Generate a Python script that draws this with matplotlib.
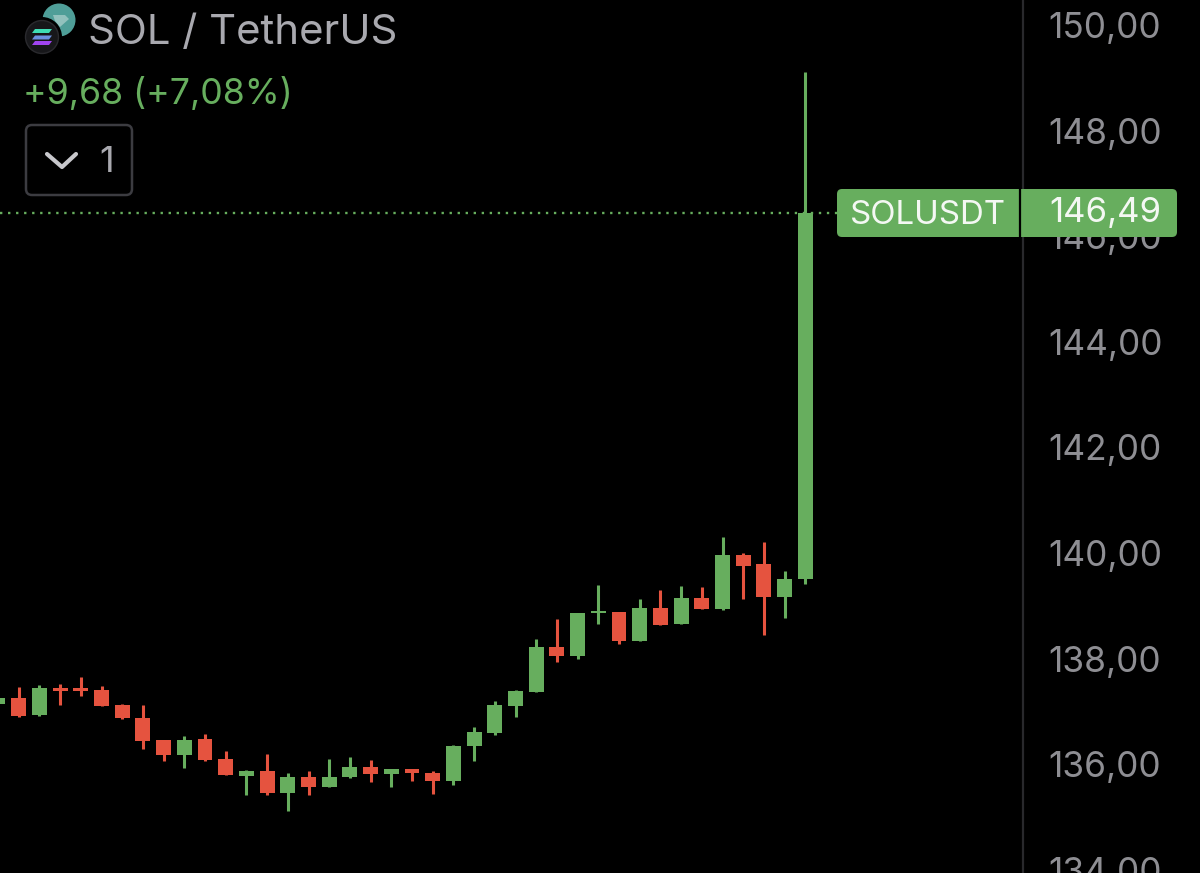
import matplotlib
matplotlib.use("Agg")
import matplotlib.pyplot as plt
import matplotlib.transforms as mtrans
from matplotlib.patches import FancyBboxPatch, Circle, Polygon

plt.rcParams['font.family'] = ['Inter', 'DejaVu Sans']

opens  = [137.20, 137.31, 136.99, 137.50, 137.50, 137.46, 137.18, 136.93, 136.52, 136.23,
          136.53, 136.16, 135.83, 135.93, 135.51, 135.81, 135.62, 135.81, 136.00, 135.87,
          135.97, 135.89, 135.74, 136.40, 136.65, 137.16, 137.42, 138.28, 138.11, 138.92,
          138.94, 138.39, 139.02, 138.71, 139.20, 139.00, 140.02, 139.85, 139.22, 139.56]
highs  = [137.31, 137.52, 137.56, 137.58, 137.71, 137.54, 137.20, 137.18, 136.52, 136.59,
          136.63, 136.31, 135.95, 136.25, 135.89, 135.93, 136.16, 136.19, 136.14, 135.97,
          135.97, 135.93, 136.42, 136.76, 137.25, 137.46, 138.43, 138.81, 138.92, 139.45,
          138.94, 139.19, 139.36, 139.43, 139.41, 140.36, 140.06, 140.27, 139.72, 149.17]
lows   = [137.18, 136.95, 136.97, 137.18, 137.35, 137.16, 136.91, 136.34, 136.12, 135.98,
          136.12, 135.85, 135.47, 135.47, 135.17, 135.47, 135.62, 135.80, 135.72, 135.62,
          135.74, 135.49, 135.66, 136.12, 136.61, 136.95, 137.42, 137.99, 138.05, 138.71,
          138.33, 138.39, 138.69, 138.71, 139.00, 138.98, 139.19, 138.50, 138.83, 139.47]
closes = [137.31, 136.97, 137.50, 137.44, 137.44, 137.16, 136.93, 136.50, 136.23, 136.52,
          136.14, 135.85, 135.93, 135.51, 135.81, 135.62, 135.81, 136.00, 135.87, 135.97,
          135.89, 135.74, 136.40, 136.67, 137.18, 137.44, 138.28, 138.11, 138.92, 138.96,
          138.39, 139.02, 138.69, 139.20, 139.00, 140.02, 139.81, 139.22, 139.56, 146.49]
up_flags = [1, 0, 1, 0, 0, 0, 0, 0, 0, 1, 0, 0, 1, 0, 1, 0, 1, 1, 0, 1,
            0, 0, 1, 1, 1, 1, 1, 0, 1, 1, 0, 1, 0, 1, 0, 1, 0, 0, 1, 1]
price_ticks = [134, 136, 138, 140, 142, 144, 146, 148, 150]

GREEN = '#67AE5E'
RED = '#E5533F'
GRAY = '#8E8E93'
W, H = 1200, 873
fmt = lambda v: f"{v:.2f}".replace('.', ',')

fig = plt.figure(figsize=(W / 100, H / 100), dpi=100, facecolor='black')
ax = fig.add_axes([0, 0, 1023 / W, 1], facecolor='black')
idx = list(range(len(opens)))
px_per_bar, px_per_unit = 20.7, 52.8
ax.set_xlim(2 / px_per_bar, (1023 + 2) / px_per_bar)
ax.set_ylim(140 + (556 - H) / px_per_unit, 140 + 556 / px_per_unit)

colors = [GREEN if u else RED for u in up_flags]
ax.vlines(idx, lows, highs, colors=colors, linewidth=2.2, zorder=2)
ax.bar(idx, [abs(c - o) for o, c in zip(opens, closes)],
       bottom=[min(o, c) for o, c in zip(opens, closes)],
       width=0.72, color=colors, linewidth=0, zorder=3)
ax.axhline(closes[-1], color=GREEN, linewidth=1.7, dashes=(1.0, 2.4), zorder=1)

for s in ('top', 'left', 'bottom'):
    ax.spines[s].set_visible(False)
ax.spines['right'].set_color('#29292C')
ax.spines['right'].set_linewidth(1.6)
ax.set_xticks([])
ax.yaxis.tick_right()
ax.set_yticks(price_ticks)
ax.set_yticklabels([fmt(v) for v in price_ticks], fontsize=25.4, color=GRAY)
ax.tick_params(axis='y', length=0, pad=18.5)
shift = mtrans.ScaledTranslation(0, 3 / 100, fig.dpi_scale_trans)
for lab in ax.get_yticklabels():
    lab.set_transform(lab.get_transform() + shift)

# overlay in pixel coordinates for header and badge
ov = fig.add_axes([0, 0, 1, 1], facecolor='none', zorder=5)
ov.set_xlim(0, W)
ov.set_ylim(H, 0)
ov.axis('off')

# logos
ov.add_patch(Circle((59, 20), 16.5, color='#4F9E98', lw=0))
ov.add_patch(Polygon([(53, 15), (65, 15), (69, 19), (60, 27), (55, 21)], closed=True, color='#BFD9D6', lw=0, alpha=.6))
ov.add_patch(Circle((42, 37), 20, color='black', lw=0))
ov.add_patch(Circle((42, 37), 16.5, facecolor='#17171A', edgecolor='#2A2A2E', lw=1))
for y, c in zip((29, 35.5, 41), ('#3FDDB5', '#6C8FE0', '#A044F0')):
    ov.add_patch(Polygon([(35, y), (52, y), (49, y + 4), (32, y + 4)], closed=True, color=c, lw=0))

ov.text(88, 33, 'SOL / TetherUS', color='#A9A9AF', fontsize=30.2, va='center', ha='left')
ov.text(23, 94.5, '+9,68 (+7,08%)', color=GREEN, fontsize=25.7, va='center', ha='left')

# collapse button
ov.add_patch(FancyBboxPatch((32, 131), 94, 58, boxstyle='round,pad=6,rounding_size=6',
                            facecolor='black', edgecolor='#3C3C41', linewidth=1.8))
ov.plot([47, 62, 76], [154, 167, 154], color='#C8C8CC', lw=3, solid_capstyle='round', solid_joinstyle='round')
ov.text(107, 163, '1', color='#A9A9AF', fontsize=26, va='center', ha='center')

# price badge
ov.add_patch(FancyBboxPatch((841, 193), 332, 40, boxstyle='round,pad=4,rounding_size=5',
                            facecolor=GREEN, edgecolor='none', linewidth=0))
ov.plot([1020, 1020], [189, 237], color='black', lw=1.6, solid_capstyle='butt')
ov.text(928, 215.5, 'SOLUSDT', color='#F4F8F3', fontsize=23.8, va='center', ha='center')
ov.text(1105.5, 213, fmt(closes[-1]), color='#F4F8F3', fontsize=25, va='center', ha='center')

fig.savefig('out.png', dpi=100, facecolor='black')
